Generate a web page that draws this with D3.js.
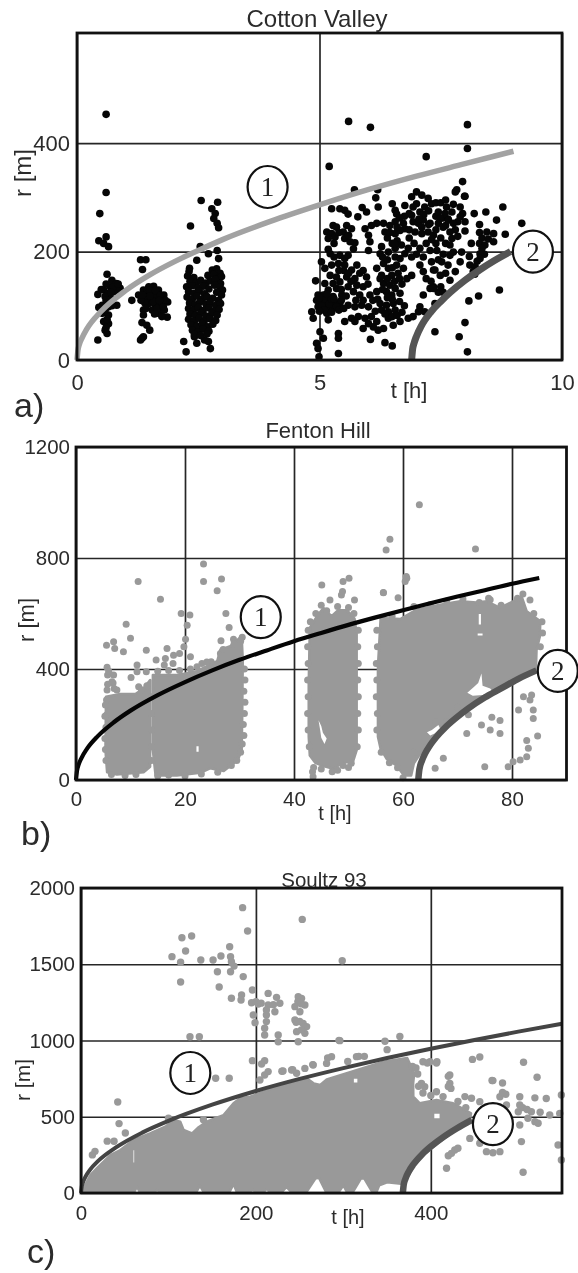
<!DOCTYPE html>
<html lang="en">
<head>
<meta charset="UTF-8">
<title>r-t plots: Cotton Valley, Fenton Hill, Soultz 93</title>
<script src="https://cdnjs.cloudflare.com/ajax/libs/d3/7.8.5/d3.min.js"></script>
<style>
    html, body { margin: 0; padding: 0; background: #fff; }
    svg { display: block; filter: blur(0.55px); font-family: "Liberation Sans", Arial, sans-serif; }
    .tick text, .lab { fill: #2b2b2b; }
    .num { font-family: "Liberation Serif", serif; fill: #222; }
</style>
</head>
<body>
<svg id="fig" width="578" height="1273"></svg>
<script>
// values: [t in h, r in m]

// ---- a) Cotton Valley
const cottonXTicks = [0, 5, 10];
const cottonYTicks = [0, 200, 400];
const cottonPoints = [
  [0.6,453],[5.6,440],[6.05,429],[8.05,434],[8.05,390],[7.2,375],[5.2,357],[0.6,309],[5.72,314],[6.2,314],[7.95,329],[7.83,314],[7.99,302],
  [0.47,270],[0.6,227],[0.45,220],[0.55,215],[0.65,209],[0.62,158],[0.72,147],[0.81,141],[0.89,132],[0.69,135],[0.55,129],[0.43,121],[0.65,123],[0.76,126],
  [0.58,117],[0.72,113],[0.82,101],[0.65,98],[0.45,97],[0.52,86],[0.65,83],[0.55,71],[0.65,67],[0.58,55],[0.62,49],[0.43,37],[0.52,101],[0.82,129],
  [0.6,140],[0.75,135],[0.7,125],[0.6,110],[0.72,100],[0.58,92],[0.62,75],[0.6,60],[0.85,140],[0.5,130],
  [1.31,185],[1.42,185],[1.35,167],[1.13,110],[1.27,120],[1.37,129],[1.48,135],[1.58,136],[1.68,129],[1.79,120],[1.87,107],[1.41,117],[1.55,123],[1.65,113],
  [1.75,104],[1.48,104],[1.62,101],[1.37,92],[1.55,92],[1.68,86],[1.86,79],[1.75,80],[1.37,83],[1.34,69],[1.44,64],[1.5,55],[1.34,40],[1.31,37],[1.37,43],
  [1.72,95],[1.44,129],[1.82,110],[1.53,110],[1.6,118],
  [1.5,128],[1.62,128],[1.72,120],[1.45,115],[1.58,108],[1.7,100],[1.4,105],[1.65,95],[1.8,92],[1.32,110],[1.42,95],[1.6,85],[1.78,98],[1.5,118],[1.35,120],[1.7,110],
  [2.56,294],[2.9,291],[2.78,279],[2.85,270],[2.82,261],[2.89,252],[2.92,244],[2.34,247],[2.54,209],[2.47,184],[2.71,196],[2.89,202],[2.92,187],[2.32,169],
  [2.2,34],[2.25,15],[2.42,43],[2.47,31],[2.71,34],[2.75,21],[2.63,37],
  [2.31,163],[2.79,166],[2.88,168],[2.95,160],[2.28,155],[2.41,152],[2.7,156],[2.82,158],[2.92,151],[2.98,154],[2.33,145],[2.46,143],[2.55,147],[2.66,142],
  [2.75,146],[2.85,149],[2.96,141],[2.26,135],[2.38,137],[2.5,133],[2.6,136],[2.72,131],[2.84,138],[2.95,134],[3.0,129],[2.3,126],[2.42,123],[2.52,127],
  [2.63,122],[2.88,125],[2.98,120],[2.27,116],[2.38,113],[2.47,118],[2.58,112],[2.68,117],[2.8,114],[2.92,110],[2.32,105],[2.43,102],[2.53,107],[2.66,103],
  [2.74,106],[2.86,101],[2.96,104],[2.3,95],[2.4,92],[2.5,97],[2.6,91],[2.72,96],[2.82,90],[2.93,93],[2.33,85],[2.44,82],[2.55,87],[2.66,81],[2.78,86],
  [2.89,83],[2.3,75],[2.42,72],[2.52,77],[2.62,71],[2.74,76],[2.86,73],[2.35,65],[2.47,62],[2.58,67],[2.7,61],[2.8,66],[2.38,55],[2.5,52],[2.6,57],[2.72,53],
  [2.42,47],[2.55,45],[2.68,48],
  [6.16,299],[6.21,282],[5.25,279],[5.42,279],[5.52,276],[5.59,269],[5.79,264],[5.88,281],[5.97,273],[6.5,288],[6.56,276],[6.59,269],[6.76,285],[6.9,301],
  [7.0,310],[7.11,304],[7.0,288],[7.24,298],[6.93,282],[7.07,273],[7.17,282],[7.31,288],
  [5.28,248],[5.15,236],[5.25,233],[5.56,248],[5.66,242],[5.49,236],[5.18,224],[5.32,227],[5.52,224],[5.73,216],[5.63,218],[5.94,242],[6.07,248],[6.18,252],
  [6.32,252],[6.45,248],[6.56,255],[6.73,252],[6.76,242],[6.01,230],[6.04,218],[6.35,236],[6.56,233],[6.66,239],[6.93,255],[7.04,252],[7.14,258],[7.28,252],
  [6.97,236],[7.11,233],[7.24,236],[7.35,230],[6.9,267],[7.11,245],
  [5.18,204],[5.22,196],[5.42,193],[5.52,187],[5.59,193],[6.01,202],[6.28,209],[6.25,196],[6.42,199],[6.56,206],[6.69,212],[6.83,206],[7.07,206],[7.28,202],
  [7.14,190],[6.76,196],[6.56,190],[6.66,187],
  [5.04,181],[5.11,169],[5.25,175],[5.39,178],[5.52,175],[5.77,175],[5.66,166],[5.83,160],[5.97,153],[5.22,156],[5.35,153],[5.56,153],[5.73,150],[6.18,169],
  [6.32,178],[6.42,169],[6.59,175],[6.73,169],[6.9,156],[7.07,175],[7.14,163],[7.35,166],[6.28,156],[6.49,156],[6.62,160],
  [4.92,146],[5.11,141],[5.28,141],[5.42,144],[5.59,135],[5.77,138],[5.9,135],[5.18,129],[5.35,132],[6.32,141],[6.45,138],[6.56,132],[6.66,123],[6.38,126],
  [6.49,120],[6.04,120],[6.18,126],[5.83,120],[5.7,126],[4.97,120],[5.08,120],[5.18,117],[5.28,117],[5.46,120],[4.94,110],
  [5.01,107],[5.11,107],[5.22,104],[5.32,107],[4.97,98],[5.08,98],[5.18,95],[5.28,95],[5.42,104],[5.59,101],[5.73,98],[5.87,101],[6.01,98],[6.25,104],
  [6.38,101],[6.52,104],[6.28,92],[6.42,89],[6.56,92],[7.14,120],[7.28,132],[7.35,135],[7.07,98],[7.17,89],
  [4.84,89],[4.87,77],[5.15,86],[5.18,74],[5.52,71],[5.66,77],[5.8,80],[5.94,77],[6.07,80],[5.9,58],[5.73,71],[6.18,71],[6.32,58],[6.21,55],[6.52,64],
  [6.66,71],[6.83,77],[6.93,80],[7.04,89],[6.11,61],[6.01,67],[6.42,77],
  [5.01,52],[4.94,31],[4.97,21],[5.08,40],[5.39,49],[5.39,40],[6.05,38],[6.35,32],[6.5,26],[5.39,12],[4.99,6],
  [5.0,115],[5.05,100],[5.13,112],[5.2,103],[5.25,112],[5.35,98],[5.3,113],[5.1,92],[5.25,88],[5.4,92],[5.15,122],[5.0,90],[5.45,110],[5.5,95],
  [5.3,215],[5.4,235],[5.35,245],[5.6,230],[5.7,205],[5.3,190],[5.5,165],[5.4,165],[5.6,160],[5.9,165],[6.0,140],[5.65,145],[5.45,130],[5.55,118],[5.75,110],
  [5.9,110],[6.1,110],[6.2,112],[6.15,90],[6.35,85],[6.5,80],[6.6,82],[6.7,88],[6.75,100],[6.65,108],[6.5,112],[6.4,115],[6.3,130],[6.25,150],[6.4,150],
  [6.55,145],[6.7,140],[6.8,150],[6.65,150],[6.5,170],[6.4,185],[6.3,190],[6.5,215],[6.6,220],[6.4,225],[6.45,235],[6.6,245],[6.85,240],[6.85,225],[6.95,215],
  [7.0,195],[6.9,190],[7.2,215],[7.25,250],[7.4,240],[7.5,225],[7.4,215],[7.6,215],[7.55,195],[7.45,185],[7.65,175],[7.6,160],[7.2,150],[7.3,145],[7.45,125],
  [7.55,125],[7.5,135],[7.15,268],[7.25,275],[7.4,265],[7.55,262],[7.6,248],[7.8,240],[7.85,228],[7.85,255],[7.95,270],[7.4,290],[7.5,290],[7.6,295],[7.65,260],
  [7.05,260],[6.85,270],[6.75,265],[6.65,262],[6.55,215],[8.3,235],[8.3,215],[8.4,195],[8.25,182],[8.2,158],[8.1,175],[8.35,225],
  [7.8,310],[8.0,302],[8.78,282],[8.43,273],[8.19,270],[7.62,282],[7.76,287],[7.9,282],[7.45,273],[7.59,270],[7.73,273],[7.9,264],[8.0,255],[7.49,261],
  [7.66,258],[7.45,252],[7.76,252],[8.65,258],[8.3,250],[9.17,252],[7.55,245],[7.69,236],[8.0,238],[8.45,236],[8.59,233],[8.83,232],[8.48,223],[8.59,218],
  [7.31,222],[7.73,224],[7.69,212],[8.13,215],[8.41,212],[8.35,206],[7.42,202],[7.76,199],[7.93,199],[8.31,196],[7.69,193],[8.09,191],[8.31,187],[7.9,181],
  [7.31,181],[7.52,181],[8.21,172],[8.17,163],[7.38,166],[7.49,156],[7.8,163],[7.69,147],[7.35,132],[7.38,104],[8.71,129],[8.28,118],[8.08,109],[8.0,69],
  [7.88,43],[8.05,15],[7.38,52]
];
const cottonCurve1 = [[0,0],[0.02,18],[0.05,29],[0.1,40],[0.2,57],[0.5,90],[1,128],[1.5,157],[2,181],[2.5,202],[3,222],[4,256],[5,286],[6,314],[7,339],[8,362],[9,385]];
const cottonCurve2 = [[6.9,0],[6.92,20],[6.95,31],[7,44],[7.1,63],[7.3,89],[7.5,108],[7.7,125],[8,147],[8.3,166],[8.6,183],[8.94,200]];
const cottonMarks = [["1",3.93,319],["2",9.4,200]];

// ---- b) Fenton Hill
const fentonXTicks = [0, 20, 40, 60, 80];
const fentonYTicks = [0, 400, 800, 1200];
// the saturated parts of the cloud can't be read dot by dot, so they are outlines (later rings = white holes)
const fentonCloud = [
  [[5.5,300],[8.1,310],[10.9,310],[12.4,330],[13.6,360],[13.6,48],[12.4,28],[7.5,20],[5.7,28],[5.4,108]],
  [[14.1,378],[18.5,378],[22.2,392],[25.9,428],[26.5,470],[28.3,482],[30.4,518],[30.6,432],[30.5,228],[30.4,108],[29.7,72],[27.1,32],[24.6,42],[22.8,26],[18.5,16],[14.6,16],[14.1,108]],
  [[42.7,348],[42.9,548],[44.2,590],[45.4,620],[46.9,590],[48.1,612],[49.7,612],[51.1,582],[51.5,528],[51.5,108],[50.8,64],[49.1,64],[47.2,40],[45.4,50],[43.9,62],[42.9,88],[42.7,156]],
  [[55.9,584],[59.5,580],[62.5,614],[66.8,632],[70.5,644],[73.5,640],[75.4,644],[77.8,620],[80.2,644],[81.8,660],[82.7,608],[85.2,572],[85.1,516],[84.5,468],[84.4,400],[80,365],[76.5,325],[75,300],[72,262],[70,232],[68,196],[66,155],[65,130],[64,110],[63,90],[62,60],[61.5,16],[60.2,16],[58.8,52],[57,76],[55.9,112],[55.4,156],[55.4,408]],
  [[44.5,215],[45,195],[45.3,170],[46,150],[45.6,130],[45,152],[44.8,180]],
  [[73.9,598],[74.3,598],[74.3,560],[73.9,560]],
  [[73.7,528],[74.6,528],[74.6,521],[73.7,521]],
  [[64.4,172],[65.3,180],[66.5,198],[66.8,186],[65.8,168],[65,160]],
  [[74.4,384],[74.6,340],[76,330],[76.5,318],[74.6,306],[72.8,304],[71.8,314],[73,335],[73.8,350]],
  [[22.1,122],[22.5,122],[22.5,102],[22.1,102]]
];
const fentonPoints = [
  [63,992],[57.6,868],[56.9,829],[73.3,832],[60.6,733],[56.4,675],
  [11.4,715],[15.5,651],[9.2,561],[10,511],[5.6,486],[6.9,498],[7.1,474],[8.7,462],[12.9,468],[16.7,474],[23.4,778],[23.4,715],[26.7,724],[25.9,682],
  [27.5,600],[28.1,550],[19.3,600],[20.9,595],[20.4,558],[20.1,507],[19.8,480],[21,444],[19,456],[17.9,450],[14.7,432],[16.4,438],[17.8,420],[16.2,414],
  [11.2,414],[11.2,390],[10.1,369],[12.9,390],[11.5,336],[5.7,406],[5.8,378],[6.9,378],[6.6,354],[5.7,324],[7.5,324],[5.6,288],[5.6,234],[26.6,502],
  [28.9,507],[30.5,514],[26.5,456],[23.1,420],[22.2,408],[24.8,426],[6,392],[6.8,350],[5.8,345],[7,330],[13,340],[12,325],[15,392],[17,395],[19,395],
  [21,400],[24,425],[27,470],[29,490],[30.2,500],[6.5,20],[9,16],[11,20],[15,14],[17,18],[20,14],[23,22],[26,28],[28.5,52],
  [13.85,300],[13.85,240],[13.85,180],[13.85,120],[13.85,70],
  [5.4,270],[5.3,230],[5.5,190],[5.3,150],[5.4,110],[5.5,70],
  [30.9,400],[31,360],[30.8,320],[31,280],[30.9,240],[30.7,200],[30.8,160],[30.5,130],[30.2,100],[29.5,70],
  [42.6,540],[42.5,480],[42.6,420],[42.5,360],[42.6,300],[42.5,240],[42.6,180],[42.8,120],[43.5,12],[43.4,30],[43.6,45],
  [51.8,540],[51.7,480],[51.8,420],[51.7,360],[51.8,300],[51.7,240],[51.8,180],[51.6,120],[50.5,60],[49,52],
  [55.2,540],[55.3,480],[55.1,420],[55.2,360],[55.1,300],[55.3,240],[55.2,180],[56,100],[57.5,62],[59,44],
  [45.1,703],[49,715],[50.1,727],[48.7,667],[46.6,649],[51.1,649],[48.9,679],[56.4,676],[59.1,657],[60.7,727],[60.4,715],[75.7,655],[83.3,649],
  [67.4,78],[65.9,42],[75,48],[79.3,48],[80.2,66],[81.5,72],[82.7,84],[83,114],[82.7,142],[84.7,159],[83.9,222],[83.9,252],[83.3,288],[82.1,300],[83.6,306],
  [81.2,252],[77.8,168],[76,180],[77.8,214],[76.3,226],[74.4,198],[71.7,168],[68,210],[44,600],[45,630],[46,610],[48,625],[50,622],[51,600],[43,570],
  [47,30],[48,35],[45,40],[50,45],[58,590],[62,625],[65,632],[68,645],[71,652],[74,640],[76,650],[78,630],[81,655],[82,670],[84,600],[85.5,570],
  [85.6,530],[85.2,480],[70,262],[72,235],[69,225],[66,210],[64,140],[62,100],[60,8]
];
const fentonCurve1 = [[0,0],[0.2,35],[0.5,56],[1,79],[2,112],[4,158],[7,209],[10,250],[15,306],[20,353],[25,395],[30,433],[35,467],[40,500],[45,530],[50,559],[55,586],[60,612],[65,637],[70,661],[75,684],[80,707],[85,728]];
const fentonCurve2 = [[62.8,0],[63,38],[63.5,71],[64,93],[65,126],[66,152],[68,194],[70,228],[72,258],[75,297],[78,330],[81,363],[84.5,395]];
const fentonMarks = [["1",33.9,587],["2",88.4,393]];

// ---- c) Soultz 93
const soultzXTicks = [0, 200, 400];
const soultzYTicks = [0, 500, 1000, 1500, 2000];
const soultzCloud = [
  [[3,30],[10.6,118],[18,162],[33.5,249],[45,282],[60,348],[79,391],[96.4,435],[106,479],[113.5,468],[117.3,413],[127,391],[134.5,431],[144,468],[153.5,490],[163,511],[174.4,588],[182,621],[193.5,632],[224,697],[258,752],[266,719],[273.5,708],[281,745],[346,861],[373,885],[381,785],[379.8,719],[380,632],[387.4,588],[406.5,610],[425.5,588],[446,522],[444.6,479],[418,369],[391,249],[380,173],[370,63],
   [366,60],[350,70],[341,50],[338,8],[333,8],[324,95],[320,95],[311,8],[304,8],[300,50],[295,8],[280,8],[272,100],[268,95],[258,8],[240,8],[235,40],[230,8],[215,8],[213,30],[209,8],[199,8],[197,20],[192,8],[178,8],[174.5,60],[170,8],[140,8],[136,50],[132,8],[90,8],[87,20],[84,8],[67,8],[64,42],[61,8],[3,5]],
  [[60,280],[60.8,280],[60.8,200],[60,200]],
  [[312,750],[316,750],[316,725],[312,725]],
  [[404,520],[410,520],[410,490],[404,490]]
];
const soultzPoints = [
  [184.8,1871],[190.5,1718],[253,1794],[126.5,1685],[115.4,1674],[119.6,1587],[104,1550],[113.9,1513],[137,1528],[151,1528],[160,1554],[170,1615],[171,1550],
  [172,1517],[175,1488],[156,1451],[171,1451],[185.5,1419],[113.9,1384],[158,1351],[172,1277],[183.6,1298],[183,1266],[196,1331],[195,1248],[202.7,1239],
  [197,1167],[199,1117],[214,1309],[214,1233],[223.6,1283],[227.4,1244],[221.7,1189],[212,1167],[212,1124],[210,1080],[210,1036],[225.5,1036],[225.5,992],
  [248.4,1287],[252.2,1276],[256,1233],[244.6,1222],[250.3,1189],[244.6,1134],[254,1112],[258,1091],[246.5,1058],[256,1047],[248.4,992],[296,999],[298.7,1523],
  [124.6,1025],[135.3,1025],[196,868],[210,868],[206.5,846],[214,796],[210,774],[204.6,741],[231,800],[240.8,807],[246.5,785],[256,817],[265.5,839],[280.8,850],
  [286.5,894],[315,894],[154,752],[169.5,752],[248,1255],[252,1240],[250,1125],[246,1120],[252,1070],[212,1200],[220,1235],[200,1255],[206,1245],
  [347.6,995],[364.6,1027],[295,1001],[350,940],[42,597],[43.5,455],[50.7,393],[16,273],[37.8,339],[13,250],[30,340],[100,490],[140,480],
  [447.6,876],[456,892],[506,857],[471,737],[482,721],[521.5,759],[421.7,774],[421.7,719],[423,686],[479,631],[485.7,648],[501.7,631],[391,861],[399,861],[407,861],
  [393,697],[389.3,719],[406.5,664],[414,632],[439,632],[431,600],[446.5,621],[456,599],[519,624],[532,620],[549.3,643],[486.5,577],[501.7,577],[500,533],[515,533],
  [501.7,446],[511,490],[522.7,457],[536,511],[547.4,522],[503.6,337],[545.5,315],[549.3,216],[505.5,136],[418,162],[420,244],[427.4,282],[431,293],[423.6,260],
  [463.6,271],[471,264],[479,271],[444.6,358],[456,326],[519,468],[229.7,798],[242,809],[265,842],[282,885],[317.7,896],[324,896],[305,863],[379,830],[396,852],
  [406.5,852],[386,700],[391,656],[420,765],[420,699],[470,738],[482,660],[505,560],[510,548],[525,530],[440,560],[400,640],[385,780],[383,820]
];
const soultzCurve1 = [[0,0],[1,47],[2,67],[5,106],[10,150],[20,212],[40,299],[70,396],[100,473],[150,579],[200,669],[250,748],[300,819],[350,885],[400,946],[450,1003],[500,1058],[550,1110]];
const soultzCurve2 = [[368,0],[369,54],[371,94],[375,143],[380,187],[390,253],[400,305],[415,370],[430,425],[447,480]];
const soultzMarks = [["1",125,787],["2",471,452]];

const svg = d3.select("#fig");

function panel(o) {
    const x = d3.scaleLinear().domain(o.xDomain).range([o.left, o.right]);
    const y = d3.scaleLinear().domain(o.yDomain).range([o.bottom, o.top]);
    const g = svg.append("g");

    // grid comes from the axes themselves, long ticks across the plot
    g.append("g").attr("transform", `translate(0,${o.bottom})`)
        .call(d3.axisBottom(x).tickValues(o.xTicks).tickFormat(d3.format("d")).tickSize(-(o.bottom - o.top)).tickPadding(o.xPad));
    g.append("g").attr("transform", `translate(${o.left},0)`)
        .call(d3.axisLeft(y).tickValues(o.yTicks).tickFormat(d3.format("d")).tickSize(-(o.right - o.left)).tickPadding(o.yPad));
    g.selectAll(".domain").remove();
    g.selectAll(".tick line").attr("stroke", "#262626").attr("stroke-width", 1.7);
    g.selectAll(".tick text").attr("font-size", o.tickFont).attr("font-family", "inherit");

    if (o.cloud) {
        const ring = d3.line().x(d => x(d[0])).y(d => y(d[1]));
        g.append("path")
            .attr("d", o.cloud.slice(0, o.solid).map(r => ring(r) + "Z").join(""))
            .attr("fill", o.dot).attr("stroke", o.dot).attr("stroke-width", 2.5).attr("stroke-linejoin", "round");
        g.append("path")
            .attr("d", o.cloud.slice(o.solid).map(r => ring(r) + "Z").join(""))
            .attr("fill", "#fff");
    }

    g.selectAll("circle.pt").data(o.points).enter().append("circle")
        .attr("class", "pt")
        .attr("cx", d => x(d[0])).attr("cy", d => y(d[1]))
        .attr("r", o.radius).attr("fill", o.dot);

    const curve = d3.line().x(d => x(d[0])).y(d => y(d[1])).curve(d3.curveMonotoneX);
    g.append("path").attr("d", curve(o.curve1)).attr("fill", "none")
        .attr("stroke", o.c1Color).attr("stroke-width", o.c1Width);
    g.append("path").attr("d", curve(o.curve2)).attr("fill", "none")
        .attr("stroke", "#555").attr("stroke-width", o.c2Width);

    // frame
    g.append("rect").attr("x", o.left).attr("y", o.top)
        .attr("width", o.right - o.left).attr("height", o.bottom - o.top)
        .attr("fill", "none").attr("stroke", "#111").attr("stroke-width", 2.8);

    // numbered circles
    o.marks.forEach(m => {
        g.append("ellipse").attr("cx", x(m[1])).attr("cy", y(m[2])).attr("rx", 20).attr("ry", 21)
            .attr("fill", "#fff").attr("stroke", "#111").attr("stroke-width", 2.2);
        g.append("text").attr("class", "num").attr("x", x(m[1])).attr("y", y(m[2]) + 9)
            .attr("text-anchor", "middle").attr("font-size", 27).text(m[0]);
    });

    const label = (txt, tx, ty, size, rot) => g.append("text").attr("class", "lab")
        .attr("transform", `translate(${tx},${ty})` + (rot ? " rotate(-90)" : ""))
        .attr("text-anchor", "middle").attr("font-size", size).text(txt);
    label(o.title, o.titleX, o.titleY, o.titleFont);
    label("t [h]", o.tX, o.tY, o.tFont);
    label("r [m]", o.rX, o.rY, o.rFont, true);
    g.append("text").attr("class", "lab").attr("x", o.tagX).attr("y", o.tagY)
        .attr("font-size", 34).text(o.tag);
}

panel({
    left: 77, right: 562, top: 33, bottom: 360, xDomain: [0, 10], yDomain: [0, 603],
    xTicks: cottonXTicks, yTicks: cottonYTicks, xPad: 14, yPad: 7, tickFont: 22,
    points: cottonPoints, dot: "#060606", radius: 3.8,
    curve1: cottonCurve1, c1Color: "#a2a2a2", c1Width: 5.5, curve2: cottonCurve2, c2Width: 7, marks: cottonMarks,
    title: "Cotton Valley", titleX: 317, titleY: 27, titleFont: 24,
    tX: 409, tY: 398, tFont: 22, rX: 31, rY: 173, rFont: 24, tag: "a)", tagX: 14, tagY: 417
});
panel({
    left: 76, right: 566.5, top: 447, bottom: 780, xDomain: [0, 90], yDomain: [0, 1200],
    xTicks: fentonXTicks, yTicks: fentonYTicks, xPad: 11, yPad: 6, tickFont: 20.5,
    cloud: fentonCloud, solid: 4, points: fentonPoints, dot: "#999", radius: 3.5,
    curve1: fentonCurve1, c1Color: "#050505", c1Width: 4.2, curve2: fentonCurve2, c2Width: 6.5, marks: fentonMarks,
    title: "Fenton Hill", titleX: 318, titleY: 438, titleFont: 22,
    tX: 335, tY: 820, tFont: 20, rX: 34, rY: 620, rFont: 22, tag: "b)", tagX: 21, tagY: 845
});
panel({
    left: 81, right: 562, top: 888, bottom: 1193, xDomain: [0, 550], yDomain: [0, 2000],
    xTicks: soultzXTicks, yTicks: soultzYTicks, xPad: 12, yPad: 6, tickFont: 20.5,
    cloud: soultzCloud, solid: 1, points: soultzPoints, dot: "#999", radius: 3.7,
    curve1: soultzCurve1, c1Color: "#444", c1Width: 4, curve2: soultzCurve2, c2Width: 6.5, marks: soultzMarks,
    title: "Soultz 93", titleX: 324, titleY: 887, titleFont: 20.5,
    tX: 348, tY: 1224, tFont: 20, rX: 30, rY: 1080, rFont: 21, tag: "c)", tagX: 27, tagY: 1263
});
</script>
</body>
</html>
